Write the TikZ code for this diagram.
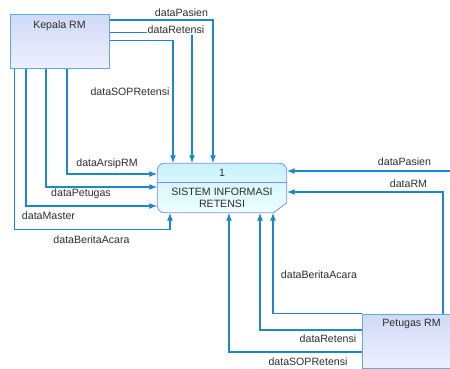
\documentclass[tikz,border=0pt]{standalone}
\usepackage{fontspec}
\setmainfont{Liberation Sans}
\usetikzlibrary{arrows.meta,positioning}

\definecolor{flowblue}{RGB}{30,135,200}
\definecolor{entline}{RGB}{95,170,220}
\definecolor{entfillA}{RGB}{208,218,246}
\definecolor{entfillB}{RGB}{238,240,255}
\definecolor{procline}{RGB}{135,135,255}
\definecolor{procfillA}{RGB}{200,242,255}
\definecolor{procfillB}{RGB}{238,255,255}
\definecolor{txtgray}{RGB}{45,45,45}

\begin{document}
\begin{tikzpicture}[x=1pt,y=-1pt,>={Latex[length=8pt,width=6pt]},
    flow/.style={->,flowblue,line width=1.2pt},
    entity/.style={draw=entline,line width=1pt,top color=entfillA,bottom color=entfillB,
      minimum width=99pt,minimum height=54pt,inner sep=0pt},
    lbl/.style={font=\fontsize{10.6}{12}\selectfont,text=txtgray,inner sep=1pt}]
  \useasboundingbox (0,0) rectangle (450,369);

  % External entities
  \node[entity] (kepala) at (59.5,42) {};
  \node[lbl,below=5pt] (kepalaT) at (kepala.north) {Kepala RM};
  \node[entity] (petugas) at (411.5,341) {};
  \node[lbl,below=5pt] (petugasT) at (petugas.north) {Petugas RM};

  % Process 1
  \node[minimum width=129pt,minimum height=49pt] (proc) at (222,188) {};
  \draw[procline,line width=0.8pt,top color=procfillA,bottom color=procfillB]
    [rounded corners=7pt] (proc.south west) -- (proc.north west) -- (proc.north east)
    [rounded corners=0pt] -- ([yshift=10pt]proc.south east) -- ([xshift=-13pt]proc.south east)
    [rounded corners=7pt] -- cycle;
  \draw[procline,line width=0.8pt] ([yshift=6pt]proc.west) -- ([yshift=6pt]proc.east);
  \node[lbl] (procnum) at (222,173) {1};
  \node[lbl,align=center] (procname) at (222,197.5) {SISTEM INFORMASI\\RETENSI};

  % Kepala RM -> process (top)
  \draw[flow] ([yshift=-5.5pt]kepala.north east) -| ([xshift=-9pt]proc.north);
  \draw[flow] ([yshift=-18pt]kepala.north east) -| ([xshift=-30pt]proc.north);
  \draw[flow] ([yshift=-26pt]kepala.north east) -| ([xshift=-49pt]proc.north);
  \node[lbl] (kPasien) at (181.5,13) {dataPasien};
  \node[lbl,fill=white] (kRetensi) at (176,30) {dataRetensi};
  \node[lbl] (kSOP) at (130,92) {dataSOPRetensi};

  % Kepala RM -> process (left)
  \draw[flow] ([xshift=7.5pt]kepala.south) |- ([yshift=14pt]proc.west);
  \draw[flow] ([xshift=-13.5pt]kepala.south) |- ([yshift=1pt]proc.west);
  \draw[flow] ([xshift=-33.5pt]kepala.south) |- ([yshift=-18pt]proc.west);
  \draw[flow] ([xshift=5pt]kepala.south west) -- ++(0,160) -| ([xshift=-52pt]proc.south);
  \node[lbl] (kArsip) at (107,164) {dataArsipRM};
  \node[lbl] (kPetugas) at (81,194) {dataPetugas};
  \node[lbl] (kMaster) at (48.5,216) {dataMaster};
  \node[lbl] (kBerita) at (91.5,240) {dataBeritaAcara};

  % Right side -> process
  \coordinate (pasienR) at (452,171);
  \draw[flow] (pasienR) -- (pasienR -| proc.east);
  \draw[flow] ([xshift=31.5pt]petugas.north) |- ([yshift=-4pt]proc.east);
  \node[lbl] (pPasien) at (404.5,162) {dataPasien};
  \node[lbl] (pRM) at (408.5,184) {dataRM};

  % Petugas RM -> process (bottom)
  \draw[flow] (petugas.north west) -| ([xshift=51pt]proc.south);
  \draw[flow] ([yshift=11pt]petugas.west) -| ([xshift=38pt]proc.south);
  \draw[flow] ([yshift=-11pt]petugas.west) -| ([xshift=7pt]proc.south);
  \node[lbl] (pBerita) at (319,275) {dataBeritaAcara};
  \node[lbl] (pRetensi) at (328,339) {dataRetensi};
  \node[lbl] (pSOP) at (308,362) {dataSOPRetensi};
\end{tikzpicture}
\end{document}
